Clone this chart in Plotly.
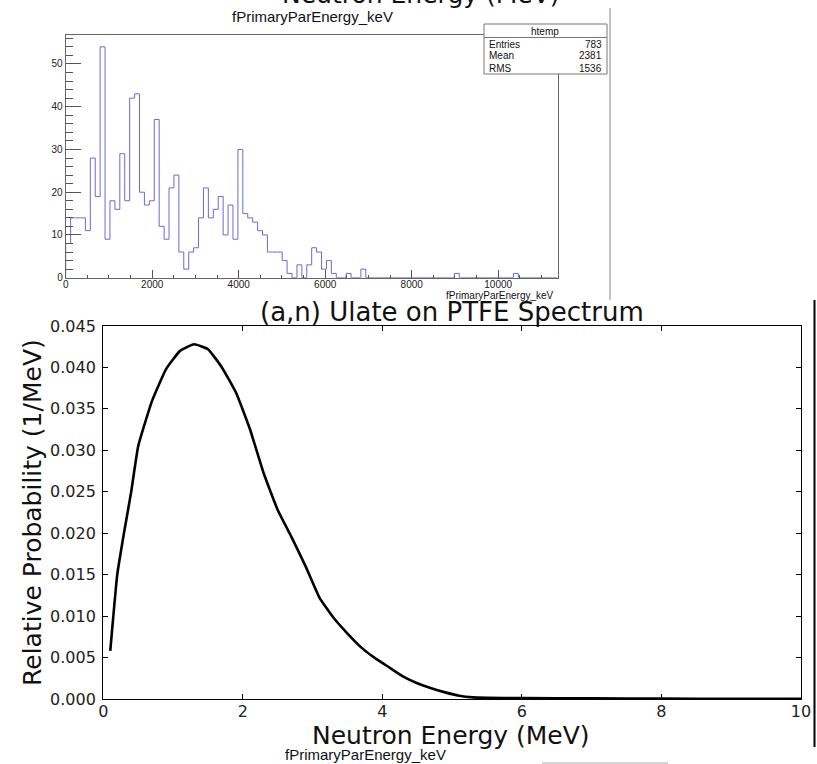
import plotly.graph_objects as go

W, H = 817, 764

# ---------------- top panel: ROOT histogram ----------------
BIN_WIDTH_KEV = 113.76
HIST_COUNTS = [
    8, 14, 14, 14, 11, 28, 19, 54, 9, 18,
    16, 29, 18, 42, 43, 20, 17, 18, 37, 12,
    9, 21, 24, 6, 2, 6, 7, 14, 21, 14,
    16, 19, 10, 17, 9, 30, 15, 14, 13, 11,
    10, 6, 6, 6, 4, 1, 0, 3, 0, 3,
    7, 6, 2, 4, 1, 0, 0, 1, 0, 0,
    2, 0, 0, 0, 0, 0, 0, 0, 0, 0,
    0, 0, 0, 0, 0, 0, 0, 0, 0, 1,
    0, 0, 0, 0, 0, 0, 0, 0, 0, 0,
    0, 1, 0, 0, 0, 0, 0, 0, 0, 0,
]
HIST_X_TICKS = [0, 2000, 4000, 6000, 8000, 10000]
HIST_Y_TICKS = [0, 10, 20, 30, 40, 50]
STATS_NAME = "htemp"
STATS_LABELS = ["Entries", "Mean", "RMS"]
STATS_VALUES = ["783", "2381", "1536"]

# ---------------- bottom panel: spectrum ----------------
ENERGY_MEV = [0.1, 0.2, 0.3, 0.4, 0.5, 0.7, 0.9, 1.1, 1.3, 1.5, 1.7, 1.9,
              2.1, 2.3, 2.5, 2.7, 2.9, 3.1, 3.3, 3.5, 3.7, 3.9, 4.1, 4.3,
              4.5, 4.7, 4.9, 5.1, 5.3, 5.5, 6.0, 7.0, 8.0, 9.0, 10.0]
REL_PROB = [0.0058, 0.0150, 0.0202, 0.0250, 0.0305, 0.0360, 0.0398, 0.0420,
            0.0428, 0.0422, 0.0400, 0.0370, 0.0326, 0.0272, 0.0228, 0.0195,
            0.0160, 0.0122, 0.0098, 0.0079, 0.0062, 0.0049, 0.0038, 0.0027,
            0.0019, 0.0013, 0.0008, 0.0004, 0.0002, 0.00015, 0.0001,
            0.00008, 0.00005, 0.00002, 0.00001]
SPEC_X_TICKS = [0, 2, 4, 6, 8, 10]
SPEC_Y_TICKS = [0.000, 0.005, 0.010, 0.015, 0.020, 0.025, 0.030, 0.035, 0.040, 0.045]


def px(x):
    return x / W


def py(y):
    return 1 - y / H


n = len(HIST_COUNTS)
edges = [i * BIN_WIDTH_KEV for i in range(n + 1)]
step_x = [0.0] + edges
step_y = [0] + HIST_COUNTS + [HIST_COUNTS[-1]]

fig = go.Figure()
fig.add_trace(go.Scatter(x=step_x, y=step_y, mode="lines", line_shape="hv",
                         line=dict(color="#6a6ad6", width=1),
                         xaxis="x", yaxis="y", hoverinfo="skip", showlegend=False))
fig.add_trace(go.Scatter(x=ENERGY_MEV, y=REL_PROB, mode="lines",
                         line=dict(color="black", width=2.6, shape="spline", smoothing=0.4),
                         xaxis="x2", yaxis="y2", hoverinfo="skip", showlegend=False))

ROOT_FAM = "Liberation Sans, Arial, sans-serif"
MPL_FAM = "DejaVu Sans, sans-serif"
root_font = dict(family=ROOT_FAM, size=10, color="#222")
mpl_font = dict(family=MPL_FAM, size=16, color="#222")

fig.update_layout(
    width=W, height=H,
    margin=dict(l=0, r=0, t=0, b=0, pad=0, autoexpand=False),
    paper_bgcolor="white", plot_bgcolor="white",
    showlegend=False,
    xaxis=dict(domain=[px(65.7), px(557.7)], range=[0, n * BIN_WIDTH_KEV],
               tickvals=HIST_X_TICKS, ticktext=[str(v) for v in HIST_X_TICKS],
               ticks="inside", ticklen=8, tickcolor="#555", tickwidth=1,
               minor=dict(dtick=500, ticks="inside", ticklen=3, tickcolor="#555"),
               showline=True, linecolor="#666", linewidth=1, mirror=True,
               showgrid=False, zeroline=False, tickfont=root_font,
               anchor="y", ticklabelstandoff=-3, automargin=False),
    yaxis=dict(domain=[py(277.7), py(35.3)], range=[0, 56.7],
               tickvals=HIST_Y_TICKS, ticktext=[str(v) for v in HIST_Y_TICKS],
               ticks="inside", ticklen=15, tickcolor="#555", tickwidth=1,
               minor=dict(dtick=2, ticks="inside", ticklen=7, tickcolor="#555"),
               showline=True, linecolor="#666", linewidth=1, mirror=True,
               showgrid=False, zeroline=False, tickfont=root_font,
               anchor="x", ticklabelstandoff=0, automargin=False),
    xaxis2=dict(domain=[px(103.3), px(801)], range=[0, 10],
                tickvals=SPEC_X_TICKS, ticktext=[str(v) for v in SPEC_X_TICKS],
                ticks="inside", ticklen=5, tickcolor="black",
                showline=True, linecolor="black", linewidth=1.2, mirror="ticks",
                showgrid=False, zeroline=False, tickfont=mpl_font,
                anchor="y2", ticklabelstandoff=-2, automargin=False),
    yaxis2=dict(domain=[py(699), py(326)], range=[0, 0.045],
                tickvals=SPEC_Y_TICKS, ticktext=["%.3f" % v for v in SPEC_Y_TICKS],
                ticks="inside", ticklen=5, tickcolor="black",
                showline=True, linecolor="black", linewidth=1.2, mirror="ticks",
                showgrid=False, zeroline=False, tickfont=mpl_font,
                anchor="x2", ticklabelstandoff=3, automargin=False),
)


def note(text, x, y, xa, ya, fam, size, angle=0):
    return dict(text=text, x=px(x), y=py(y), xref="paper", yref="paper",
                xanchor=xa, yanchor=ya, textangle=angle,
                font=dict(family=fam, size=size, color="#111"), showarrow=False)


ann = []
# top cut-off big title
ann.append(note("Neutron Energy (MeV)", 421, 11, "center", "bottom", MPL_FAM, 25))
# ROOT title
ann.append(note("fPrimaryParEnergy_keV", 312, 17, "center", "middle", ROOT_FAM, 15))
# ROOT x axis title
ann.append(note("fPrimaryParEnergy_keV", 556, 295, "right", "middle", ROOT_FAM, 10))
# stats box text
ann.append(note(STATS_NAME, 545, 31, "center", "middle", ROOT_FAM, 10))
row_y = [44, 56, 68]
for lab, val, yy in zip(STATS_LABELS, STATS_VALUES, row_y):
    ann.append(note(lab, 487, yy, "left", "middle", ROOT_FAM, 10))
    ann.append(note(val, 604, yy, "right", "middle", ROOT_FAM, 10))
# matplotlib title and labels
ann.append(note("(a,n) Ulate on PTFE Spectrum", 452, 329, "center", "bottom", MPL_FAM, 26))
ann.append(note("Neutron Energy (MeV)", 451, 735, "center", "middle", MPL_FAM, 25))
ann.append(note("Relative Probability (1/MeV)", 32, 513, "center", "middle", MPL_FAM, 25, angle=-90))
# second ROOT title fragment at bottom
ann.append(note("fPrimaryParEnergy_keV", 365, 754, "center", "middle", ROOT_FAM, 15))
fig.update_layout(annotations=ann)

shapes = []
# stats box
shapes.append(dict(type="rect", xref="paper", yref="paper", x0=px(484), x1=px(607), y0=py(74), y1=py(24),
                   line=dict(color="#777", width=1), fillcolor="white", layer="above"))
shapes.append(dict(type="line", xref="paper", yref="paper", x0=px(484), x1=px(607), y0=py(37.5), y1=py(37.5),
                   line=dict(color="#777", width=1)))
# vertical canvas edge lines
shapes.append(dict(type="line", xref="paper", yref="paper", x0=px(610), x1=px(610), y0=py(8), y1=py(300),
                   line=dict(color="#888", width=1)))
shapes.append(dict(type="line", xref="paper", yref="paper", x0=px(814.5), x1=px(814.5), y0=py(300), y1=py(747),
                   line=dict(color="black", width=2)))
# faint line at bottom
shapes.append(dict(type="line", xref="paper", yref="paper", x0=px(542), x1=px(668), y0=py(763), y1=py(763),
                   line=dict(color="#aaa", width=1)))
fig.update_layout(shapes=shapes)

fig.write_html("out.html", config={"displayModeBar": False, "staticPlot": True},
               post_script="document.body.style.margin='0';document.body.style.overflow='hidden';")
